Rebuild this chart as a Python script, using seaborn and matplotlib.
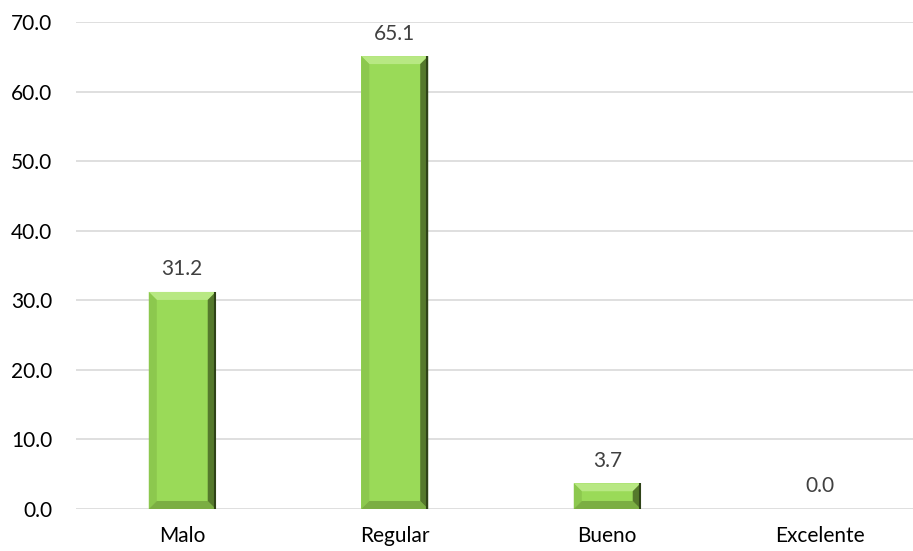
import matplotlib
matplotlib.use("Agg")
import matplotlib.pyplot as plt
import seaborn as sns
import pandas as pd
from matplotlib.patches import Polygon

categories = ["Malo", "Regular", "Bueno", "Excelente"]
values = [31.2, 65.1, 3.7, 0.0]
yticks = [0, 10, 20, 30, 40, 50, 60, 70]

sns.set_theme(style="white")
plt.rcParams['font.family'] = ['Lato', 'DejaVu Sans']

df = pd.DataFrame({"cat": categories, "val": values})

fig = plt.figure(figsize=(9.13, 5.51), dpi=100)
ax = fig.add_axes([76/913, 1 - 509/551, 1 - 76/913, (509 - 22)/551])

sns.barplot(data=df, x="cat", y="val", color="#9ADA58", width=0.315,
            saturation=1, ax=ax, zorder=3, linewidth=0)

ax.set_ylim(0, 70)
ax.set_xlim(-0.5, 3.5 - 13/212.5)
ax.set_yticks(yticks)
ax.set_yticklabels([f"{v:.1f}" for v in yticks])
ax.yaxis.grid(True, color="#D9D9D9", linewidth=1.2, zorder=0)
ax.set_axisbelow(True)
for s in ax.spines.values():
    s.set_visible(False)
ax.tick_params(axis="both", length=0, labelsize=15, colors="#000000")
ax.tick_params(axis="y", pad=17)
ax.tick_params(axis="x", pad=12)
ax.set_xlabel("")
ax.set_ylabel("")

# bevel overlay derived from bar patches
bdx = 8 / 212.5
bdy = 8 / 69.6 * 10
for p in ax.patches:
    x0 = p.get_x()
    w = p.get_width()
    h = p.get_height()
    if h <= 0:
        continue
    x1 = x0 + w
    y0 = 0
    y1 = h
    dy = min(bdy, h / 3)
    dx = bdx
    top = Polygon([(x0, y1), (x1, y1), (x1 - dx, y1 - dy), (x0 + dx, y1 - dy)],
                  closed=True, facecolor="#B8E883", edgecolor="none", zorder=4)
    right = Polygon([(x1, y1), (x1, y0), (x1 - dx, y0 + dy), (x1 - dx, y1 - dy)],
                    closed=True, facecolor="#55792C", edgecolor="none", zorder=4)
    left = Polygon([(x0, y1), (x0, y0), (x0 + dx, y0 + dy), (x0 + dx, y1 - dy)],
                   closed=True, facecolor="#8CC84E", edgecolor="none", zorder=4)
    bottom = Polygon([(x0, y0), (x1, y0), (x1 - dx, y0 + dy), (x0 + dx, y0 + dy)],
                     closed=True, facecolor="#7BAE43", edgecolor="none", zorder=4)
    for poly in (top, left, bottom, right):
        ax.add_patch(poly)
    ax.plot([x1 - 0.004, x1 - 0.004], [y0, y1], color="#2F4318", lw=1.5, zorder=5,
            solid_capstyle="butt")

for i, v in enumerate(values):
    ax.annotate(f"{v:.1f}", xy=(i, v), xytext=(0, 9), textcoords="offset points",
                ha="center", va="bottom", fontsize=15, color="#404040", zorder=6)

fig.savefig("out.png", dpi=100)
